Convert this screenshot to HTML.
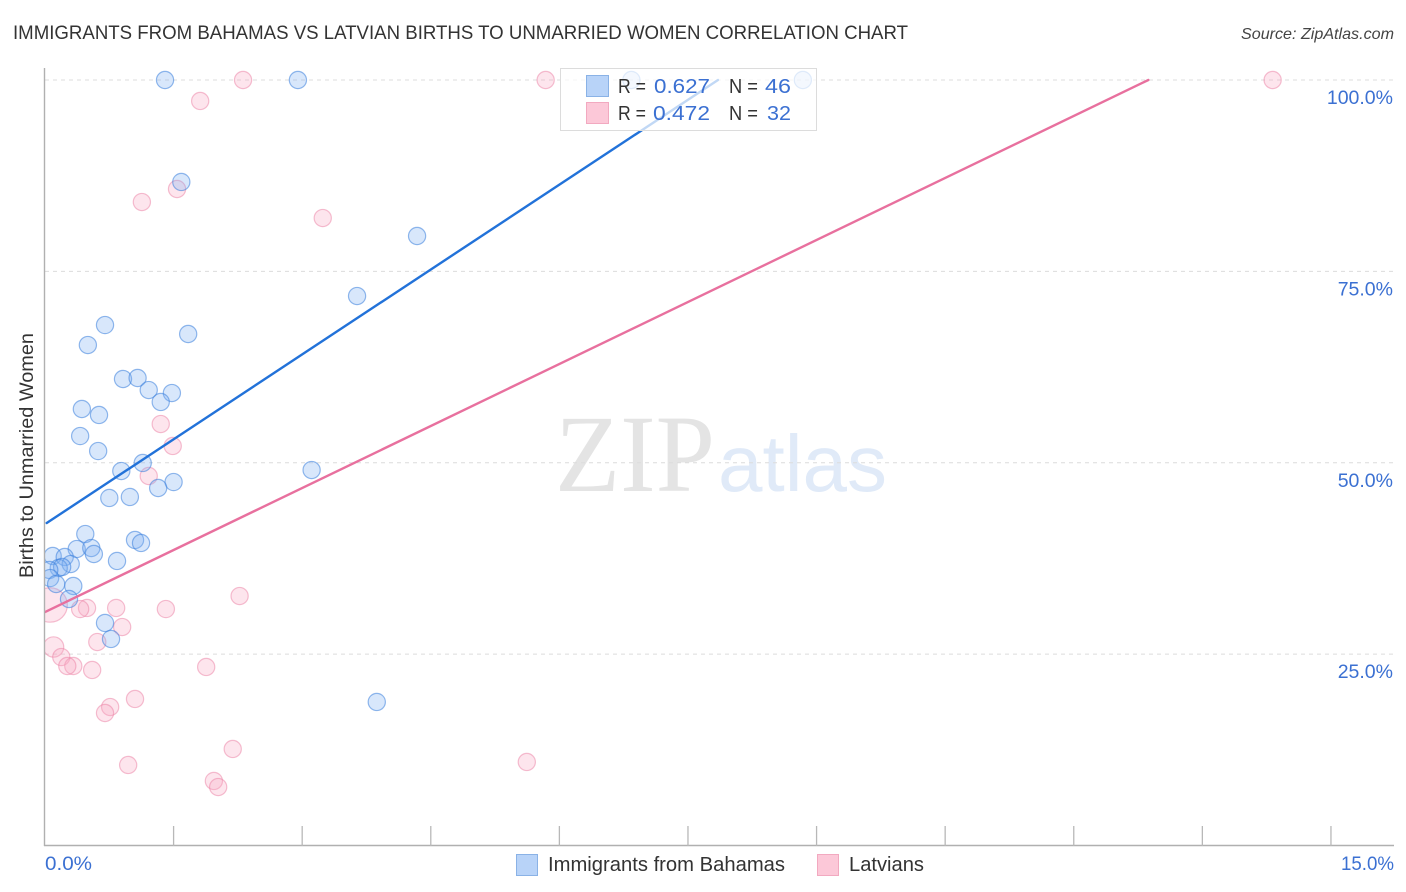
<!DOCTYPE html>
<html lang="en">
<head>
<meta charset="utf-8">
<title>Immigrants from Bahamas vs Latvian Births to Unmarried Women Correlation Chart</title>
<style>
html,body{margin:0;padding:0;background:#fff;width:1406px;height:892px;overflow:hidden}
svg{display:block;font-family:"Liberation Sans",sans-serif}
</style>
</head>
<body>
<svg id="chart" width="1406" height="892" viewBox="0 0 1406 892" xmlns="http://www.w3.org/2000/svg">
  <defs>
    <clipPath id="plot-clip"><rect x="45" y="60" width="1349" height="786"/></clipPath>
  </defs>
  <rect x="0" y="0" width="1406" height="892" fill="#fff"/>
  <text x="13" y="39" font-size="19.5" fill="#333" textLength="895" lengthAdjust="spacingAndGlyphs">IMMIGRANTS FROM BAHAMAS VS LATVIAN BIRTHS TO UNMARRIED WOMEN CORRELATION CHART</text>
  <text x="1394" y="39" font-size="16" font-style="italic" fill="#444" text-anchor="end" textLength="153" lengthAdjust="spacingAndGlyphs">Source: ZipAtlas.com</text>
  <g>
    <text x="555" y="491" font-family="'Liberation Serif',serif" font-size="110" fill="#e4e4e4" textLength="160" lengthAdjust="spacingAndGlyphs">ZIP</text>
    <text x="718" y="491" font-size="80" fill="#e0eaf8" textLength="169" lengthAdjust="spacingAndGlyphs">atlas</text>
  </g>
  <g id="grid"></g>
  <g id="marks" clip-path="url(#plot-clip)"></g>
  <g id="axes"></g>
  <text transform="translate(33,455.5) rotate(-90)" font-size="19.8" fill="#333" text-anchor="middle" textLength="245" lengthAdjust="spacingAndGlyphs">Births to Unmarried Women</text>

  <g>
    <rect x="560.5" y="68.5" width="256" height="62" fill="#fff" fill-opacity="0.72" stroke="#dcdcdc" stroke-width="1"/>
    <rect x="586.5" y="75.5" width="22" height="21" fill="#b8d3f8" stroke="#8ab2e6"/>
    <rect x="586.5" y="102.5" width="22" height="21" fill="#fcc8d8" stroke="#f2a9c0"/>
    <g font-size="20.5">
      <text x="618" y="93" fill="#333" textLength="28" lengthAdjust="spacingAndGlyphs">R =</text>
      <text x="654" y="93" fill="#3b70d2" textLength="56" lengthAdjust="spacingAndGlyphs">0.627</text>
      <text x="729" y="93" fill="#333" textLength="29" lengthAdjust="spacingAndGlyphs">N =</text>
      <text x="765" y="93" fill="#3b70d2" textLength="26" lengthAdjust="spacingAndGlyphs">46</text>
      <text x="618" y="120" fill="#333" textLength="28" lengthAdjust="spacingAndGlyphs">R =</text>
      <text x="653" y="120" fill="#3b70d2" textLength="57" lengthAdjust="spacingAndGlyphs">0.472</text>
      <text x="729" y="120" fill="#333" textLength="29" lengthAdjust="spacingAndGlyphs">N =</text>
      <text x="767" y="120" fill="#3b70d2" textLength="24" lengthAdjust="spacingAndGlyphs">32</text>
    </g>
  </g>

  <g>
    <rect x="516.5" y="854.5" width="21" height="21" fill="#b8d3f8" stroke="#8ab2e6"/>
    <text x="548" y="871" font-size="20" fill="#333" textLength="237" lengthAdjust="spacingAndGlyphs">Immigrants from Bahamas</text>
    <rect x="817.5" y="854.5" width="21" height="21" fill="#fcc8d8" stroke="#f2a9c0"/>
    <text x="849" y="871" font-size="20" fill="#333" textLength="75" lengthAdjust="spacingAndGlyphs">Latvians</text>
  </g>
</svg>
<script>
const yTickValues = [25, 50, 75, 100];
const yTickLabels = ["25.0%", "50.0%", "75.0%", "100.0%"];
const xTickValues = [0, 1.5, 3, 4.5, 6, 7.5, 9, 10.5, 12, 13.5, 15];
const xEndLabels = ["0.0%", "15.0%"];

const bahamasX = [1.40,2.95,6.84,8.84,1.59,4.34,3.64,0.70,1.67,0.50,0.91,1.08,1.21,1.48,1.35,0.43,0.63,0.41,0.62,1.14,0.89,1.50,1.32,0.75,0.99,3.11,0.47,1.05,1.12,0.37,0.54,0.57,0.84,0.09,0.23,0.30,0.16,0.20,0.05,0.06,0.13,0.33,0.28,0.70,0.77,3.87];
const bahamasY = [100,100,100,100,86.68,79.62,71.78,67.99,66.82,65.38,60.94,61.07,59.50,59.11,57.94,57.02,56.24,53.49,51.53,49.97,48.92,47.48,46.70,45.40,45.53,49.05,40.69,39.91,39.52,38.73,38.86,38.08,37.17,37.82,37.69,36.77,36.25,36.38,35.99,34.94,34.16,33.90,32.20,29.07,26.98,18.75];

const latviansX = [2.31,5.84,14.32,1.81,1.13,1.54,3.24,1.35,1.49,1.21,2.27,1.41,0.83,0.49,0.41,0.90,0.61,0.10,0.19,0.33,0.26,0.55,1.88,1.05,0.76,0.70,2.19,0.97,5.62,1.97,2.02,0.06];
const latviansY = [100,100,100,97.26,84.06,85.76,81.97,55.06,52.19,48.27,32.59,30.89,31.03,31.03,30.89,28.54,26.58,25.93,24.62,23.45,23.45,22.93,23.32,19.14,18.09,17.31,12.61,10.52,10.91,8.43,7.64,31.42];
const latviansWeight = [1,1,1,1,1,1,1,1,1,1,1,1,1,1,1,1,1,1.4,1,1,1,1,1,1,1,1,1,1,1,1,1,4];

const bahamasTrendX = [0.02, 7.85];
const bahamasTrendY = [42.13, 100];
const latviansTrendX = [0, 12.87];
const latviansTrendY = [30.5, 100];

const NS = "http://www.w3.org/2000/svg";
const xScale = v => 45 + v * 85.73;
const yScale = v => 845.5 - v * 7.655;

function make(tag, attrs, parent) {
  const el = document.createElementNS(NS, tag);
  for (const k in attrs) el.setAttribute(k, attrs[k]);
  parent.appendChild(el);
  return el;
}

const grid = document.getElementById("grid");
const axes = document.getElementById("axes");
const marks = document.getElementById("marks");

yTickValues.forEach((v, i) => {
  const line = make("line", {x1: 45, x2: 1393, y1: yScale(v), y2: yScale(v), stroke: "#dcdcdc", "stroke-width": 1, "stroke-dasharray": "4 4"}, grid);
  
  
  const label = make("text", {x: 1393, y: yScale(v) + 24, "font-size": 19.5, fill: "#3b70d2", "text-anchor": "end"}, axes);
  label.textContent = yTickLabels[i];
  
  
});

const yAxisLine = make("line", {x1: 44.5, x2: 44.5, y1: 68, y2: 846, stroke: "#b0b0b0", "stroke-width": 1.4}, axes);


const xAxisLine = make("line", {x1: 44, x2: 1394, y1: 845.5, y2: 845.5, stroke: "#b0b0b0", "stroke-width": 1.4}, axes);



xTickValues.slice(1).forEach(v => {
  const tick = make("line", {x1: xScale(v), x2: xScale(v), y1: 826, y2: 846, stroke: "#b8b8b8", "stroke-width": 1.3}, axes);
  
  
});

const xLabelStart = make("text", {x: 45, y: 870, "font-size": 19.5, fill: "#3b70d2", textLength: 47, lengthAdjust: "spacingAndGlyphs"}, axes);
xLabelStart.textContent = xEndLabels[0];


const xLabelEnd = make("text", {x: 1394, y: 870, "font-size": 19.5, fill: "#3b70d2", "text-anchor": "end", textLength: 53, lengthAdjust: "spacingAndGlyphs"}, axes);
xLabelEnd.textContent = xEndLabels[1];



latviansX.forEach((v, i) => {
  const dot = make("circle", {cx: xScale(v), cy: yScale(latviansY[i]), r: 8.6 * Math.sqrt(latviansWeight[i]), fill: "#f9a8c2", "fill-opacity": 0.3, stroke: "#ec7fa4", "stroke-opacity": 0.5, "stroke-width": 1.2}, marks);
  
  
});

bahamasX.forEach((v, i) => {
  const dot = make("circle", {cx: xScale(v), cy: yScale(bahamasY[i]), r: 8.6, fill: "#7fb0f2", "fill-opacity": 0.3, stroke: "#3a7fdc", "stroke-opacity": 0.55, "stroke-width": 1.2}, marks);
  
  
});

const bahamasTrend = make("line", {x1: xScale(bahamasTrendX[0]), y1: yScale(bahamasTrendY[0]), x2: xScale(bahamasTrendX[1]), y2: yScale(bahamasTrendY[1]), stroke: "#2272d9", "stroke-width": 2.4, "stroke-linecap": "round"}, marks);


const latviansTrend = make("line", {x1: xScale(latviansTrendX[0]), y1: yScale(latviansTrendY[0]), x2: xScale(latviansTrendX[1]), y2: yScale(latviansTrendY[1]), stroke: "#e8709e", "stroke-width": 2.4, "stroke-linecap": "round"}, marks);


</script>
</body>
</html>
